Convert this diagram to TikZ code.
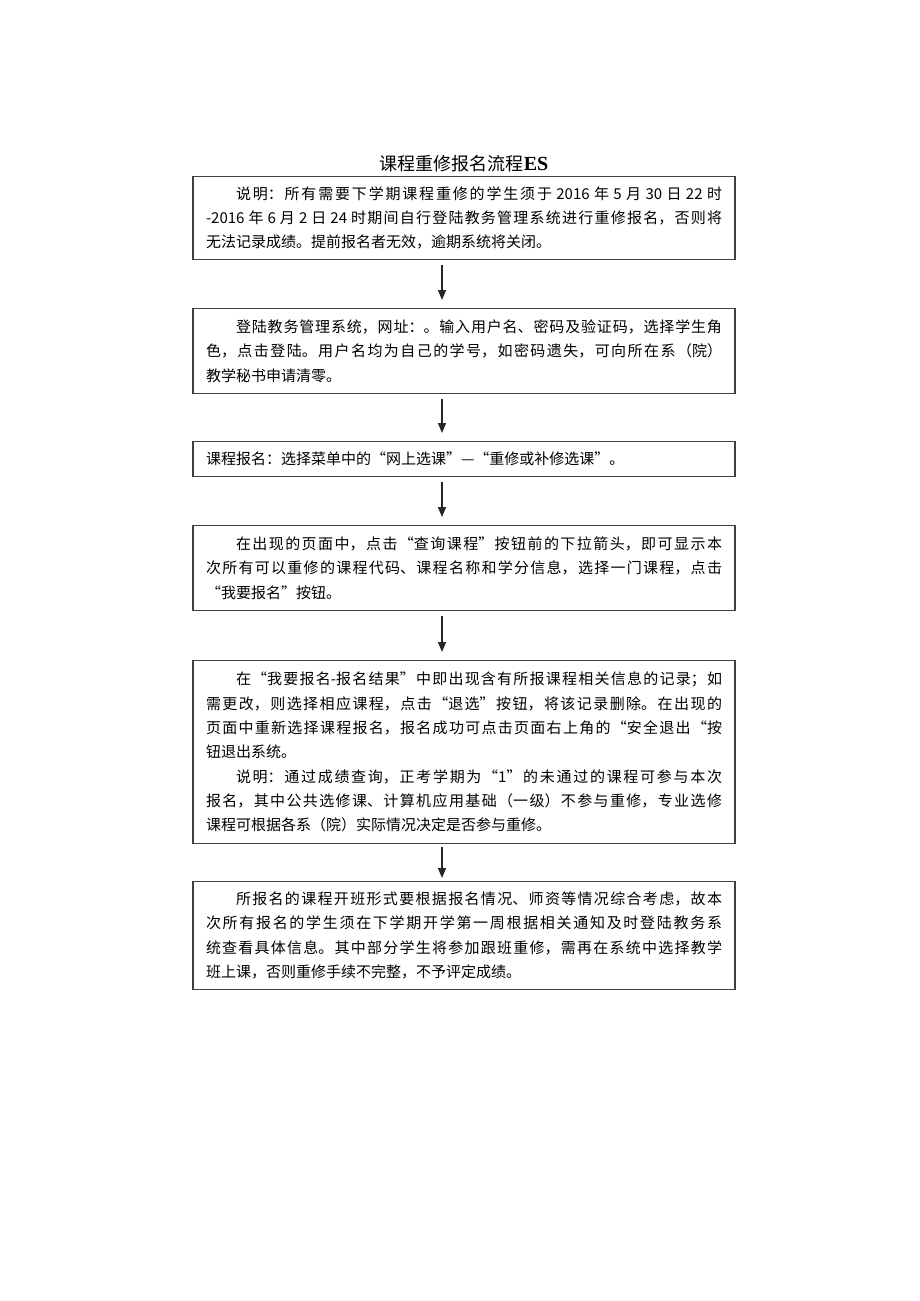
\documentclass[tikz,border=0pt]{standalone}
\usepackage{fontspec}
\usepackage{tikz}
\usetikzlibrary{arrows.meta}
\newfontfamily\cjk{Noto Sans CJK SC}
\newfontfamily\esfont{Liberation Serif}
\XeTeXlinebreaklocale "zh"
\XeTeXlinebreakskip=0pt plus 3pt
\tolerance=9999
\tikzset{
  stepbox/.style={draw=black!75,line width=1.2pt,text width=516pt,inner xsep=13pt,inner ysep=0pt,align=justify,anchor=north,font=\cjk\fontsize{15}{24.3}\selectfont},
  arr/.style={-{Triangle[length=10pt,width=8pt]},line width=1.3pt,black!85}
}
\newcommand{\ind}{\hspace*{2em}}
\begin{document}
\begin{tikzpicture}[x=1pt,y=-1pt]
\useasboundingbox (0,0) rectangle (920,1301);
\node[anchor=base,font=\cjk\fontsize{18}{20}\selectfont] (title) at (464,170) {课程重修报名流程{\esfont\bfseries\fontsize{20}{22}\selectfont ES}};
\node[stepbox,minimum height=83pt] (s1) at (464,176) {\ind 说明：所有需要下学期课程重修的学生须于 2016 年 5 月 30 日 22 时\linebreak -2016 年 6 月 2 日 24 时期间自行登陆教务管理系统进行重修报名，否则将\linebreak 无法记录成绩。提前报名者无效，逾期系统将关闭。};
\node[stepbox,minimum height=85pt] (s2) at (464,308) {\ind 登陆教务管理系统，网址：。输入用户名、密码及验证码，选择学生角\linebreak 色，点击登陆。用户名均为自己的学号，如密码遗失，可向所在系（院）\linebreak 教学秘书申请清零。};
\node[stepbox,minimum height=35pt] (s3) at (464,441) {课程报名：选择菜单中的“网上选课”—“重修或补修选课”。};
\node[stepbox,minimum height=85pt] (s4) at (464,525) {\ind 在出现的页面中，点击“查询课程”按钮前的下拉箭头，即可显示本\linebreak 次所有可以重修的课程代码、课程名称和学分信息，选择一门课程，点击\linebreak “我要报名”按钮。};
\node[stepbox,minimum height=183pt] (s5) at (464,660) {\ind 在“我要报名-报名结果”中即出现含有所报课程相关信息的记录；如\linebreak 需更改，则选择相应课程，点击“退选”按钮，将该记录删除。在出现的\linebreak 页面中重新选择课程报名，报名成功可点击页面右上角的“安全退出“按\linebreak 钮退出系统。\par
\ind 说明：通过成绩查询，正考学期为“1”的未通过的课程可参与本次\linebreak 报名，其中公共选修课、计算机应用基础（一级）不参与重修，专业选修\linebreak 课程可根据各系（院）实际情况决定是否参与重修。};
\node[stepbox,minimum height=108pt] (s6) at (464,881) {\ind 所报名的课程开班形式要根据报名情况、师资等情况综合考虑，故本\linebreak 次所有报名的学生须在下学期开学第一周根据相关通知及时登陆教务系\linebreak 统查看具体信息。其中部分学生将参加跟班重修，需再在系统中选择教学\linebreak 班上课，否则重修手续不完整，不予评定成绩。};
\draw[arr] ([xshift=-22pt,yshift=-5pt]s1.south) -- ([xshift=-22pt,yshift=8pt]s2.north);
\draw[arr] ([xshift=-22pt,yshift=-5pt]s2.south) -- ([xshift=-22pt,yshift=8pt]s3.north);
\draw[arr] ([xshift=-22pt,yshift=-5pt]s3.south) -- ([xshift=-22pt,yshift=8pt]s4.north);
\draw[arr] ([xshift=-22pt,yshift=-5pt]s4.south) -- ([xshift=-22pt,yshift=8pt]s5.north);
\draw[arr] ([xshift=-22pt,yshift=-3pt]s5.south) -- ([xshift=-22pt,yshift=3pt]s6.north);
\end{tikzpicture}
\end{document}
